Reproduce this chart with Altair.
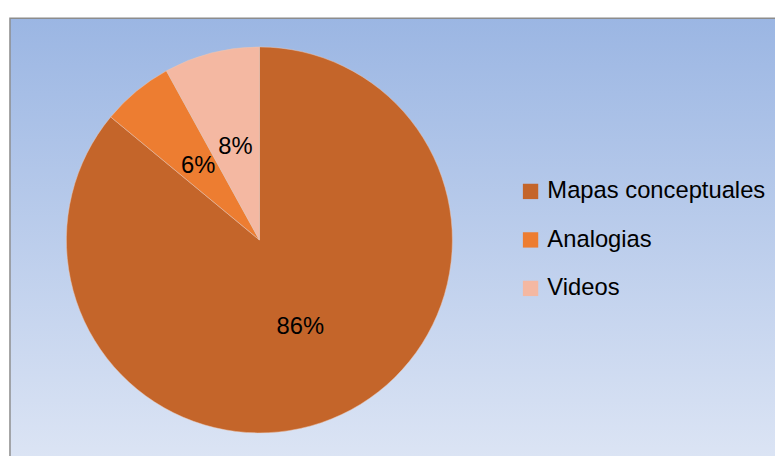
import altair as alt
import pandas as pd

categories = ["Mapas conceptuales", "Analogias", "Videos"]
values = [86, 6, 8]
labels = ["86%", "6%", "8%"]
colors = ["#C4652A", "#ED7D31", "#F4B8A2"]

df = pd.DataFrame({"cat": categories, "val": values, "lab": labels, "ord": [0, 1, 2]})

FONT = "Liberation Sans"
W, H = 775, 448
CX, CY, R = 254, 232, 195

bg = alt.Chart(pd.DataFrame({"a": [0]})).mark_rect(
    color=alt.LinearGradient(
        gradient="linear",
        stops=[alt.GradientStop(color="#9BB6E3", offset=0),
               alt.GradientStop(color="#DEE6F5", offset=1)],
        x1=0, x2=0, y1=0, y2=1,
    ),
    stroke="#8C8C8C", strokeWidth=1.5,
).encode(x=alt.value(2), x2=alt.value(800), y=alt.value(8), y2=alt.value(470))

base = alt.Chart(df).encode(
    theta=alt.Theta("val:Q", stack=True),
    order=alt.Order("ord:Q"),
    x=alt.value(CX), y=alt.value(CY),
)

pie = base.mark_arc(radius=R, stroke="#E8C8B8", strokeWidth=0.5).encode(
    color=alt.Color("cat:N", scale=alt.Scale(domain=categories, range=colors),
                    sort=categories,
                    legend=alt.Legend(title=None, orient="none", legendX=516, legendY=171,
                                      symbolType="square", symbolSize=240, symbolStrokeWidth=0,
                                      labelFont=FONT, labelFontSize=24, labelColor="#000000",
                                      labelLimit=400, rowPadding=25, labelOffset=5))
)

text = base.mark_text(radius=97, font=FONT, fontSize=24, color="#000000").encode(text="lab:N")

chart = alt.layer(bg, pie, text).properties(
    width=W, height=H, autosize=alt.AutoSizeParams(type="none"), padding=0, background="white"
).configure_view(stroke=None)

chart.save("out.html", embed_options={"renderer": "svg", "actions": False})
